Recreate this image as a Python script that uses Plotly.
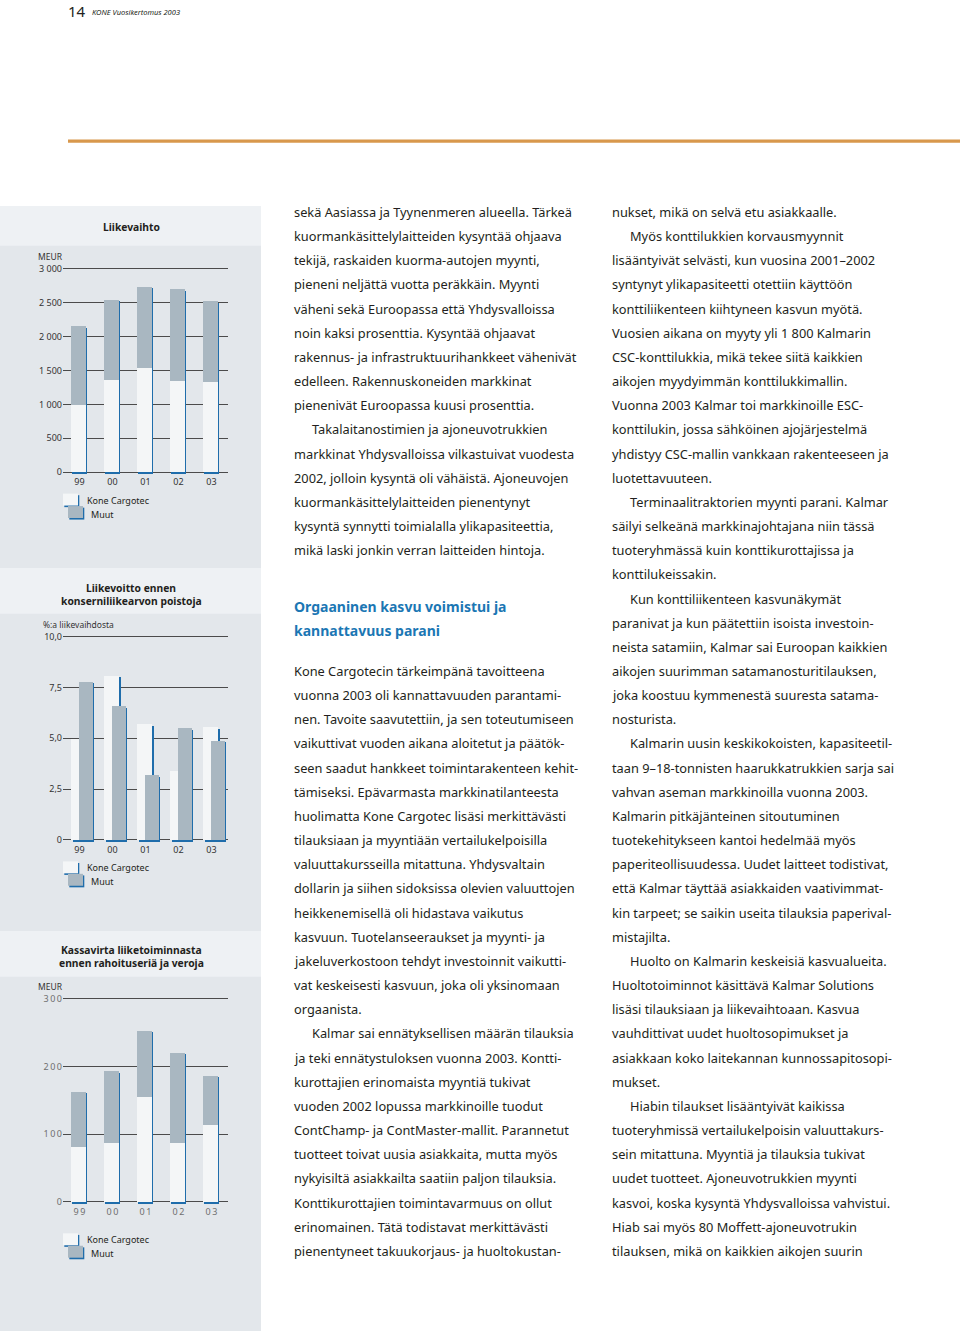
import plotly.graph_objects as go

W, H = 960, 1334

# ---- data ----
vuodet = ["99", "00", "01", "02", "03"]

liikevaihto_kc = [998, 1356, 1542, 1341, 1331]
liikevaihto_muut = [1155, 1189, 1199, 1361, 1194]

liikevoitto_kc = [5.0, 8.1, 5.7, 3.4, 5.55]
liikevoitto_muut = [7.8, 6.6, 3.2, 5.5, 4.9]

kassavirta_kc = [81, 87, 155, 88, 114]
kassavirta_muut = [82, 106, 98, 133, 73]

# body text, "\t" = indented first line of a paragraph
teksti_vasen_1 = [
    "sekä Aasiassa ja Tyynenmeren alueella. Tärkeä",
    "kuormankäsittelylaitteiden kysyntää ohjaava",
    "tekijä, raskaiden kuorma-autojen myynti,",
    "pieneni neljättä vuotta peräkkäin. Myynti",
    "väheni sekä Euroopassa että Yhdysvalloissa",
    "noin kaksi prosenttia. Kysyntää ohjaavat",
    "rakennus- ja infrastruktuurihankkeet vähenivät",
    "edelleen. Rakennuskoneiden markkinat",
    "pienenivät Euroopassa kuusi prosenttia.",
    "\tTakalaitanostimien ja ajoneuvotrukkien",
    "markkinat Yhdysvalloissa vilkastuivat vuodesta",
    "2002, jolloin kysyntä oli vähäistä. Ajoneuvojen",
    "kuormankäsittelylaitteiden pienentynyt",
    "kysyntä synnytti toimialalla ylikapasiteettia,",
    "mikä laski jonkin verran laitteiden hintoja.",
]
otsikko = ["Orgaaninen kasvu voimistui ja", "kannattavuus parani"]
teksti_vasen_2 = [
    "Kone Cargotecin tärkeimpänä tavoitteena",
    "vuonna 2003 oli kannattavuuden parantami-",
    "nen. Tavoite saavutettiin, ja sen toteutumiseen",
    "vaikuttivat vuoden aikana aloitetut ja päätök-",
    "seen saadut hankkeet toimintarakenteen kehit-",
    "tämiseksi. Epävarmasta markkinatilanteesta",
    "huolimatta Kone Cargotec lisäsi merkittävästi",
    "tilauksiaan ja myyntiään vertailukelpoisilla",
    "valuuttakursseilla mitattuna. Yhdysvaltain",
    "dollarin ja siihen sidoksissa olevien valuuttojen",
    "heikkenemisellä oli hidastava vaikutus",
    "kasvuun. Tuotelanseeraukset ja myynti- ja",
    "jakeluverkostoon tehdyt investoinnit vaikutti-",
    "vat keskeisesti kasvuun, joka oli yksinomaan",
    "orgaanista.",
    "\tKalmar sai ennätyksellisen määrän tilauksia",
    "ja teki ennätystuloksen vuonna 2003. Kontti-",
    "kurottajien erinomaista myyntiä tukivat",
    "vuoden 2002 lopussa markkinoille tuodut",
    "ContChamp- ja ContMaster-mallit. Parannetut",
    "tuotteet toivat uusia asiakkaita, mutta myös",
    "nykyisiltä asiakkailta saatiin paljon tilauksia.",
    "Konttikurottajien toimintavarmuus on ollut",
    "erinomainen. Tätä todistavat merkittävästi",
    "pienentyneet takuukorjaus- ja huoltokustan-",
]
teksti_oikea = [
    "nukset, mikä on selvä etu asiakkaalle.",
    "\tMyös konttilukkien korvausmyynnit",
    "lisääntyivät selvästi, kun vuosina 2001–2002",
    "syntynyt ylikapasiteetti otettiin käyttöön",
    "konttiliikenteen kiihtyneen kasvun myötä.",
    "Vuosien aikana on myyty yli 1 800 Kalmarin",
    "CSC-konttilukkia, mikä tekee siitä kaikkien",
    "aikojen myydyimmän konttilukkimallin.",
    "Vuonna 2003 Kalmar toi markkinoille ESC-",
    "konttilukin, jossa sähköinen ajojärjestelmä",
    "yhdistyy CSC-mallin vankkaan rakenteeseen ja",
    "luotettavuuteen.",
    "\tTerminaalitraktorien myynti parani. Kalmar",
    "säilyi selkeänä markkinajohtajana niin tässä",
    "tuoteryhmässä kuin konttikurottajissa ja",
    "konttilukeissakin.",
    "\tKun konttiliikenteen kasvunäkymät",
    "paranivat ja kun päätettiin isoista investoin-",
    "neista satamiin, Kalmar sai Euroopan kaikkien",
    "aikojen suurimman satamanosturitilauksen,",
    "joka koostuu kymmenestä suuresta satama-",
    "nosturista.",
    "\tKalmarin uusin keskikokoisten, kapasiteetil-",
    "taan 9–18-tonnisten haarukkatrukkien sarja sai",
    "vahvan aseman markkinoilla vuonna 2003.",
    "Kalmarin pitkäjänteinen sitoutuminen",
    "tuotekehitykseen kantoi hedelmää myös",
    "paperiteollisuudessa. Uudet laitteet todistivat,",
    "että Kalmar täyttää asiakkaiden vaativimmat-",
    "kin tarpeet; se saikin useita tilauksia paperival-",
    "mistajilta.",
    "\tHuolto on Kalmarin keskeisiä kasvualueita.",
    "Huoltotoiminnot käsittävä Kalmar Solutions",
    "lisäsi tilauksiaan ja liikevaihtoaan. Kasvua",
    "vauhdittivat uudet huoltosopimukset ja",
    "asiakkaan koko laitekannan kunnossapitosopi-",
    "mukset.",
    "\tHiabin tilaukset lisääntyivät kaikissa",
    "tuoteryhmissä vertailukelpoisin valuuttakurs-",
    "sein mitattuna. Myyntiä ja tilauksia tukivat",
    "uudet tuotteet. Ajoneuvotrukkien myynti",
    "kasvoi, koska kysyntä Yhdysvalloissa vahvistui.",
    "Hiab sai myös 80 Moffett-ajoneuvotrukin",
    "tilauksen, mikä on kaikkien aikojen suurin",
]

# ---- style ----
FONT = "Noto Sans"
INK = "#231f20"
WHITE_BAR = "#f4f6f7"
GREY_BAR = "#a9b7c1"
BLUE = "#1f6dab"
PANEL = "#e3e7eb"
PANEL_HEAD = "#eef1f4"
GRID = "#4b4b4b"


def px(x):
    return x / W


def py(y):
    return 1 - y / H


X0, X1 = 63, 228          # plot area of the small charts (px)
CAT = (X1 - X0) / 5       # px per category
DX = 1.3 / CAT            # shadow shift right, axis units

fig = go.Figure()
shapes = []
ann = []


def add_axes(n, zero_px, top_px, top_val, tickvals, ticktext, tickcolor):
    ppu = (zero_px - top_px) / top_val
    sfx = "" if n == 1 else str(n)
    fig.layout["xaxis" + sfx] = dict(
        domain=[px(X0), px(X1)], range=[-0.5, 4.5], anchor="y" + sfx,
        tickvals=list(range(5)), ticktext=ticktext[0], showgrid=False,
        zeroline=False, showline=False, ticks="",
        tickfont=dict(family=FONT, size=9, color=tickcolor), fixedrange=True)
    # a little room above the top gridline so that it is drawn
    fig.layout["yaxis" + sfx] = dict(
        domain=[py(zero_px + 3), py(top_px - 3)], range=[-3 / ppu, top_val + 3 / ppu],
        anchor="x" + sfx, tickvals=tickvals, ticktext=ticktext[1],
        showgrid=True, gridcolor=GRID, gridwidth=1, zeroline=False,
        showline=False, ticks="",
        tickfont=dict(family=FONT, size=9, color=tickcolor), fixedrange=True)
    return ppu


def stacked(n, kc, muut, ppu):
    sfx = "" if n == 1 else str(n)
    dy = 1.6 / ppu
    total = [a + b for a, b in zip(kc, muut)]
    off, wid = -0.26, 0.455
    xs = list(range(5))
    fig.add_trace(go.Bar(x=xs, y=total, base=[-dy] * 5, offset=off + DX, width=wid,
                         marker=dict(color=BLUE, line_width=0),
                         xaxis="x" + sfx, yaxis="y" + sfx))
    fig.add_trace(go.Bar(x=xs, y=kc, base=[0] * 5, offset=off, width=wid,
                         marker=dict(color=WHITE_BAR, line_width=0), name="Kone Cargotec",
                         xaxis="x" + sfx, yaxis="y" + sfx))
    fig.add_trace(go.Bar(x=xs, y=muut, base=kc, offset=off, width=wid,
                         marker=dict(color=GREY_BAR, line_width=0), name="Muut",
                         xaxis="x" + sfx, yaxis="y" + sfx))


def grouped(n, kc, muut, ppu):
    sfx = "" if n == 1 else str(n)
    dy = 1.6 / ppu
    xs = list(range(5))
    for vals, off, wid, col in [(kc, -0.25, 0.455, WHITE_BAR), (muut, -0.03, 0.44, GREY_BAR)]:
        fig.add_trace(go.Bar(x=xs, y=vals, base=[-dy] * 5, offset=off + DX, width=wid,
                             marker=dict(color=BLUE, line_width=0),
                             xaxis="x" + sfx, yaxis="y" + sfx))
        fig.add_trace(go.Bar(x=xs, y=vals, base=[0] * 5, offset=off, width=wid,
                             marker=dict(color=col, line_width=0),
                             xaxis="x" + sfx, yaxis="y" + sfx))


def legend(zero_px, dy):
    top = zero_px + dy
    for (x0, y0, col) in [(63, top, WHITE_BAR), (68, top + 12.5, GREY_BAR)]:
        shapes.append(dict(type="rect", xref="paper", yref="paper", layer="above",
                           x0=px(x0 + 1.3), x1=px(x0 + 16.3), y0=py(y0 + 1.6), y1=py(y0 + 13.6),
                           fillcolor=BLUE, line_width=0))
        shapes.append(dict(type="rect", xref="paper", yref="paper", layer="above",
                           x0=px(x0), x1=px(x0 + 15), y0=py(y0), y1=py(y0 + 12),
                           fillcolor=col, line_width=0))
    ann.append(dict(text="Kone Cargotec", x=px(85), y=py(top + 6.5)))
    ann.append(dict(text="Muut", x=px(89), y=py(top + 20.5)))


def spaced(s):
    return "\u2009".join(s)


# chart 1: Liikevaihto
ppu1 = add_axes(1, 470.7, 266.3, 3000, [0, 500, 1000, 1500, 2000, 2500, 3000],
                (vuodet, ["0", "500", "1 000", "1 500", "2 000", "2 500", "3 000"]), "#333333")
stacked(1, liikevaihto_kc, liikevaihto_muut, ppu1)
legend(470.7, 21.5)

# chart 2: Liikevoitto
ppu2 = add_axes(2, 840.4, 636.0, 10, [0, 2.5, 5, 7.5, 10],
                (vuodet, ["0", "2,5", "5,0", "7,5", "10,0"]), "#333333")
grouped(2, liikevoitto_kc, liikevoitto_muut, ppu2)
legend(840.4, 21.5)

# chart 3: Kassavirta
ppu3 = add_axes(3, 1204.3, 1000.0, 300, [0, 100, 200, 300],
                ([spaced(v) for v in vuodet], ["0", spaced("100"), spaced("200"), spaced("300")]),
                "#6f6f6f")
stacked(3, kassavirta_kc, kassavirta_muut, ppu3)
legend(1204.3, 31.5)

# left panel background
shapes.insert(0, dict(type="rect", xref="paper", yref="paper", layer="below",
                      x0=0, x1=px(261), y0=0, y1=py(203), fillcolor=PANEL, line_width=0))
for y0, y1 in [(203, 243), (567, 613), (932, 978)]:
    shapes.insert(1, dict(type="rect", xref="paper", yref="paper", layer="below",
                          x0=0, x1=px(261), y0=py(y1), y1=py(y0), fillcolor=PANEL_HEAD, line_width=0))
# orange rule
shapes.append(dict(type="rect", xref="paper", yref="paper", layer="below",
                   x0=px(68), x1=1, y0=py(139.5), y1=py(136.3), fillcolor="#d8984c", line_width=0))

for a in ann:
    a.update(xref="paper", yref="paper", xanchor="left", yanchor="middle", showarrow=False,
             font=dict(family=FONT, size=9, color=INK))

# chart titles and unit labels
for txt, y in [("Liikevaihto", 224), ("Liikevoitto ennen", 587), ("konserniliikearvon poistoja", 600.5),
               ("Kassavirta liiketoiminnasta", 951), ("ennen rahoituseriä ja veroja", 964.5)]:
    ann.append(dict(text="<b>" + txt + "</b>", x=px(131), y=py(y), xref="paper", yref="paper",
                    xanchor="center", yanchor="middle", showarrow=False,
                    font=dict(family=FONT, size=10.3, color=INK)))
for txt, x, y in [("MEUR", 36, 254), ("%:a liikevaihdosta", 41, 623.5), ("MEUR", 36, 987.5)]:
    ann.append(dict(text=txt, x=px(x), y=py(y), xref="paper", yref="paper",
                    xanchor="left", yanchor="middle", showarrow=False,
                    font=dict(family=FONT, size=8.5, color="#333333")))

# page header
ann.append(dict(text="14", x=px(66), y=py(7), xref="paper", yref="paper", xanchor="left",
                yanchor="middle", showarrow=False, font=dict(family=FONT, size=15, color=INK)))
ann.append(dict(text="<i>KONE Vuosikertomus 2003</i>", x=px(90), y=py(8.5), xref="paper", yref="paper",
                xanchor="left", yanchor="middle", showarrow=False,
                font=dict(family=FONT, size=7.5, color=INK)))

# body text columns
LINE0, STEP = 209, 24.29


def column(lines, x, first_index):
    for i, line in enumerate(lines):
        ind = 18 if line.startswith("\t") else 0
        ann.append(dict(text=line.strip("\t"), x=px(x + ind), y=py(LINE0 + (first_index + i) * STEP),
                        xref="paper", yref="paper", xanchor="left", yanchor="middle",
                        showarrow=False, font=dict(family=FONT, size=12.8, color=INK)))


column(teksti_vasen_1, 291.5, 0)
column(teksti_vasen_2, 291.5, 19)
column(teksti_oikea, 609.5, 0)
for txt, y in zip(otsikko, [606, 630]):
    ann.append(dict(text="<b>" + txt + "</b>", x=px(291.5), y=py(y), xref="paper", yref="paper",
                    xanchor="left", yanchor="middle", showarrow=False,
                    font=dict(family=FONT, size=14, color="#1b77b4")))

fig.update_layout(
    width=W, height=H, margin=dict(l=0, r=0, t=0, b=0),
    paper_bgcolor="white", plot_bgcolor="rgba(0,0,0,0)",
    barmode="overlay", bargap=0, showlegend=False,
    shapes=shapes, annotations=ann,
)

fig.write_html("out.html", config={"displayModeBar": False},
               post_script="document.body.style.margin='0';document.body.style.overflow='hidden';")
